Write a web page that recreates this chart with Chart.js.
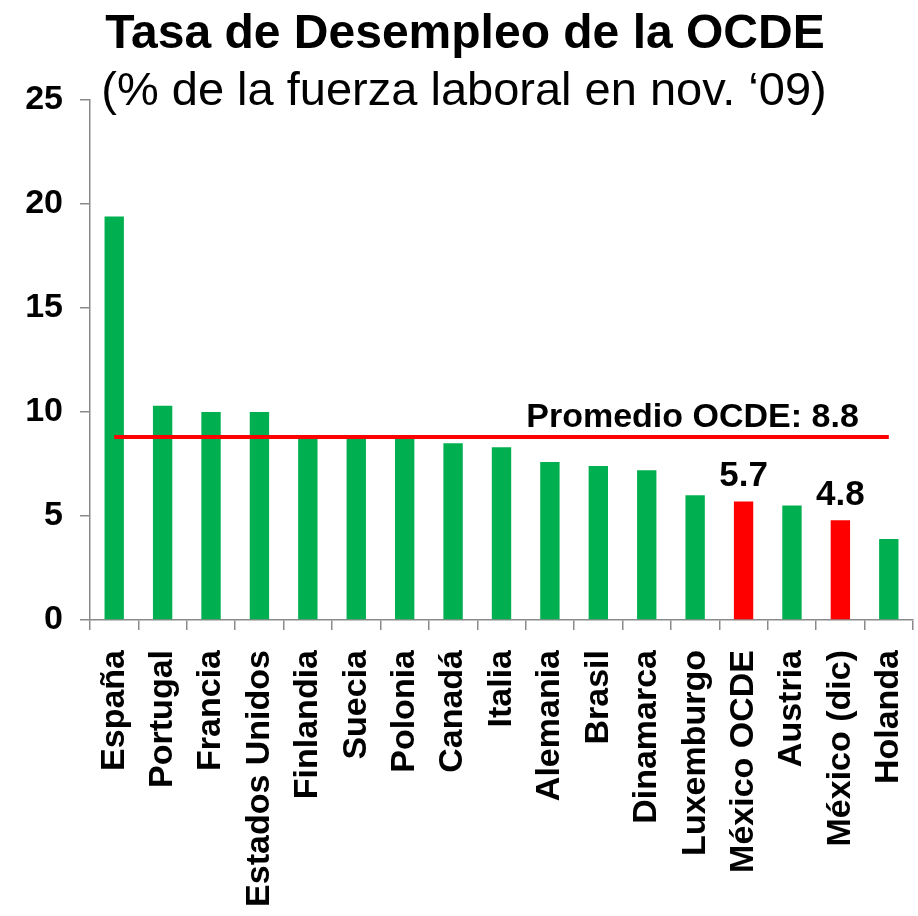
<!DOCTYPE html>
<html>
<head>
<meta charset="utf-8">
<script src="https://cdn.jsdelivr.net/npm/chart.js@4/dist/chart.umd.min.js"></script>
<style>
  html, body { margin: 0; padding: 0; background: #ffffff; }
  #wrap { width: 918px; height: 916px; position: relative; }
</style>
</head>
<body>
<div id="wrap"><canvas id="c" width="918" height="916"></canvas></div>
<script>
// ---- Data ----
const categories = ['España', 'Portugal', 'Francia', 'Estados Unidos', 'Finlandia', 'Suecia', 'Polonia', 'Canadá', 'Italia', 'Alemania', 'Brasil', 'Dinamarca', 'Luxemburgo', 'México OCDE', 'Austria', 'México (dic)', 'Holanda'];
const unemployment = [19.4, 10.3, 10.0, 10.0, 8.9, 8.9, 8.8, 8.5, 8.3, 7.6, 7.4, 7.2, 6.0, 5.7, 5.5, 4.8, 3.9];
const oecdAverage = 8.8;
const highlighted = ['México OCDE', 'México (dic)'];
const yTicks = [0, 5, 10, 15, 20, 25];
const titleText = 'Tasa de Desempleo de la OCDE';
const subtitleText = '(% de la fuerza laboral en nov. \u201809)';
const averageLabel = 'Promedio OCDE: ' + oecdAverage.toFixed(1);

const FONT = "'Liberation Sans', Arial, Helvetica, sans-serif";
const GREEN = '#00B050';
const RED = '#FF0000';
const AXIS = '#8a8a8a';

const barColors = categories.map(c => highlighted.includes(c) ? RED : GREEN);
const avgLine = categories.map(() => oecdAverage);

const textPlugin = {
  id: 'texts',
  afterDatasetsDraw(chart) {
    const ctx = chart.ctx;
    const meta = chart.getDatasetMeta(1);
    ctx.save();
    ctx.fillStyle = '#000';
    // value labels on highlighted bars
    ctx.font = 'bold 35px ' + FONT;
    ctx.textAlign = 'center';
    ctx.textBaseline = 'alphabetic';
    categories.forEach((c, i) => {
      if (highlighted.includes(c)) {
        const el = meta.data[i];
        ctx.fillText(unemployment[i].toFixed(1), el.x, el.y - 15);
      }
    });
    // average label
    const lineMeta = chart.getDatasetMeta(0);
    const last = lineMeta.data[lineMeta.data.length - 1];
    ctx.font = 'bold 34px ' + FONT;
    ctx.textAlign = 'right';
    ctx.fillText(averageLabel, last.x - 30, last.y - 10);
    // titles
    ctx.textAlign = 'center';
    ctx.font = 'bold 48px ' + FONT;
    ctx.fillText(titleText, 465, 48);
    ctx.font = '47px ' + FONT;
    ctx.fillText(subtitleText, 464, 105);
    ctx.restore();
  }
};

new Chart(document.getElementById('c'), {
  data: {
    labels: categories,
    datasets: [
      {
        type: 'line',
        data: avgLine,
        borderColor: RED,
        borderWidth: 4,
        pointRadius: 0,
        fill: false,
        order: 0
      },
      {
        type: 'bar',
        data: unemployment,
        backgroundColor: barColors,
        borderWidth: 0,
        barPercentage: 0.4,
        categoryPercentage: 1.0,
        order: 1
      }
    ]
  },
  options: {
    responsive: false,
    animation: false,
    devicePixelRatio: 1,
    layout: { padding: { top: 100, right: 5, left: 0, bottom: 0 } },
    plugins: {
      legend: { display: false },
      tooltip: { enabled: false },
      title: { display: false }
    },
    scales: {
      x: {
        type: 'category',
        offset: true,
        afterFit(scale) {
          scale.height = 296;
          scale.paddingLeft = 0;
          scale.paddingRight = 0;
        },
        grid: {
          offset: true,
          drawOnChartArea: false,
          drawTicks: true,
          tickLength: 10,
          color: AXIS,
          lineWidth: 1.5
        },
        border: { display: true, color: AXIS, width: 1.5 },
        ticks: {
          autoSkip: false,
          maxRotation: 90,
          minRotation: 90,
          padding: 20,
          color: '#000',
          font: { family: FONT, size: 34, weight: 'bold' }
        }
      },
      y: {
        min: 0,
        max: 25,
        afterFit(scale) {
          scale.width = 90;
          scale.paddingTop = 0;
          scale.paddingBottom = 0;
        },
        afterBuildTicks(scale) { scale.ticks = yTicks.map(v => ({ value: v })); },
        grid: {
          drawOnChartArea: false,
          drawTicks: true,
          tickLength: 10,
          color: AXIS,
          lineWidth: 1.5
        },
        border: { display: true, color: AXIS, width: 1.5 },
        ticks: {
          padding: 17,
          color: '#000',
          font: { family: FONT, size: 34, weight: 'bold' }
        }
      }
    }
  },
  plugins: [textPlugin]
});
</script>
</body>
</html>
